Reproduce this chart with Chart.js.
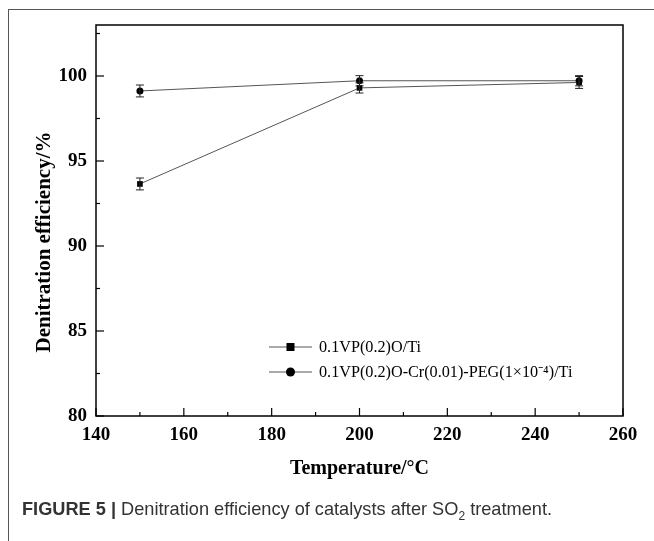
<!DOCTYPE html>
<html>
<head>
<meta charset="utf-8">
<script src="https://cdn.jsdelivr.net/npm/chart.js@4.4.1/dist/chart.umd.min.js"></script>
<style>
    html, body { margin: 0; padding: 0; background: #fff; }
    #wrap { position: relative; width: 654px; height: 541px; overflow: hidden; }
    #frame { position: absolute; left: 8px; top: 9px; width: 700px; height: 600px; border-left: 1px solid #555; border-top: 1px solid #555; }
    #chart { position: absolute; left: 0; top: 0; }
    #caption { position: absolute; left: 22px; top: 499px; font-family: "Liberation Sans", Arial, sans-serif; font-size: 18.2px; color: #333; white-space: nowrap; }
    #caption sub { font-size: 12px; }
</style>
</head>
<body>
<div id="wrap">
    <div id="frame"></div>
    <canvas id="chart" width="654" height="541"></canvas>
    <div id="caption"><b>FIGURE 5 |</b> Denitration efficiency of catalysts after SO<sub>2</sub> treatment.</div>
</div>
<script>
// jshint esversion:6

var temperatures = [150, 200, 250];
var seriesNames = ["0.1VP(0.2)O/Ti", "0.1VP(0.2)O-Cr(0.01)-PEG(1\u00d710\u207b\u2074)/Ti"];
var vpoValues = [93.65, 99.3, 99.62];
var vpoErrors = [0.35, 0.3, 0.35];
var crValues = [99.12, 99.72, 99.72];
var crErrors = [0.35, 0.3, 0.3];
var xTicks = [140, 160, 180, 200, 220, 240, 260];
var yTicks = [80, 85, 90, 95, 100];

var serif = "'Liberation Serif', 'Times New Roman', serif";

function toPoints(values) {
    return temperatures.map((t, i) => ({ x: t, y: values[i] }));
}

// ticks inside the axes, error bars, frame, legend and y title
var extras = {
    id: "extras",
    afterDatasetsDraw(chart) {
        var ctx = chart.ctx;
        var area = chart.chartArea;
        var xs = chart.scales.x;
        var ys = chart.scales.y;
        ctx.save();

        ctx.strokeStyle = "#000";
        ctx.lineWidth = 1.5;
        ctx.strokeRect(area.left, area.top, area.right - area.left, area.bottom - area.top);

        ctx.lineWidth = 1.2;
        yTicks.forEach((v) => {
            var y = ys.getPixelForValue(v);
            ctx.beginPath(); ctx.moveTo(area.left, y); ctx.lineTo(area.left + 8, y); ctx.stroke();
            var m = ys.getPixelForValue(v + 2.5);
            ctx.beginPath(); ctx.moveTo(area.left, m); ctx.lineTo(area.left + 4, m); ctx.stroke();
        });
        xTicks.forEach((v, i) => {
            var x = xs.getPixelForValue(v);
            ctx.beginPath(); ctx.moveTo(x, area.bottom); ctx.lineTo(x, area.bottom - 8); ctx.stroke();
            if (i < xTicks.length - 1) {
                var m = xs.getPixelForValue(v + 10);
                ctx.beginPath(); ctx.moveTo(m, area.bottom); ctx.lineTo(m, area.bottom - 4); ctx.stroke();
            }
        });

        // error bars
        ctx.lineWidth = 1;
        ctx.strokeStyle = "#222";
        [[vpoValues, vpoErrors], [crValues, crErrors]].forEach((s) => {
            temperatures.forEach((t, i) => {
                var x = xs.getPixelForValue(t);
                var hi = ys.getPixelForValue(s[0][i] + s[1][i]);
                var lo = ys.getPixelForValue(s[0][i] - s[1][i]);
                ctx.beginPath();
                ctx.moveTo(x, hi); ctx.lineTo(x, lo);
                ctx.moveTo(x - 4, hi); ctx.lineTo(x + 4, hi);
                ctx.moveTo(x - 4, lo); ctx.lineTo(x + 4, lo);
                ctx.stroke();
            });
        });

        // legend
        var lx = 269, ly = [347, 372];
        ctx.font = "16.2px " + serif;
        ctx.textBaseline = "middle";
        ctx.fillStyle = "#000";
        seriesNames.forEach((name, i) => {
            ctx.strokeStyle = "#555";
            ctx.lineWidth = 1;
            ctx.beginPath(); ctx.moveTo(lx, ly[i]); ctx.lineTo(lx + 43, ly[i]); ctx.stroke();
            ctx.fillStyle = "#000";
            if (i === 0) {
                ctx.fillRect(lx + 17.5, ly[i] - 4, 8, 8);
            } else {
                ctx.beginPath(); ctx.arc(lx + 21.5, ly[i], 4.5, 0, Math.PI * 2); ctx.fill();
            }
            ctx.fillText(name, lx + 50, ly[i] + 1);
        });

        // y title
        ctx.font = "bold 21px " + serif;
        ctx.textAlign = "center";
        ctx.textBaseline = "middle";
        ctx.translate(45, (ys.getPixelForValue(80) + ys.getPixelForValue(100)) / 2 - 4);
        ctx.rotate(-Math.PI / 2);
        ctx.fillText("Denitration efficiency/%", 0, 0);
        ctx.restore();
    }
};

var chart = new Chart(document.getElementById("chart"), {
    type: "scatter",
    data: {
        datasets: [{
            label: seriesNames[0],
            data: toPoints(vpoValues),
            showLine: true,
            borderColor: "#555",
            borderWidth: 1,
            pointStyle: "rect",
            pointRadius: 4,
            pointBackgroundColor: "#000",
            pointBorderColor: "#000",
            pointBorderWidth: 0
        }, {
            label: seriesNames[1],
            data: toPoints(crValues),
            showLine: true,
            borderColor: "#555",
            borderWidth: 1,
            pointStyle: "circle",
            pointRadius: 3.5,
            pointBackgroundColor: "#000",
            pointBorderColor: "#000",
            pointBorderWidth: 0
        }]
    },
    options: {
        responsive: false,
        animation: false,
        layout: { padding: { left: 0, top: 25, right: 31, bottom: 56 } },
        plugins: {
            legend: { display: false },
            tooltip: { enabled: false }
        },
        scales: {
            x: {
                type: "linear",
                min: 140,
                max: 260,
                afterBuildTicks: (s) => { s.ticks = xTicks.map((v) => ({ value: v })); },
                afterFit: (s) => { s.height = 69; },
                grid: { display: false, drawTicks: false },
                border: { display: false },
                ticks: { color: "#000", padding: 8, font: { family: serif, size: 19, weight: "bold" } },
                title: {
                    display: true,
                    text: "Temperature/\u00b0C",
                    color: "#000",
                    padding: { top: 0, bottom: 4 },
                    font: { family: serif, size: 20, weight: "bold" }
                }
            },
            y: {
                min: 80,
                max: 103,
                afterBuildTicks: (s) => { s.ticks = yTicks.map((v) => ({ value: v })); },
                afterFit: (s) => { s.width = 96; },
                grid: { display: false, drawTicks: false },
                border: { display: false },
                ticks: { color: "#000", padding: 9, font: { family: serif, size: 19, weight: "bold" } }
            }
        }
    },
    plugins: [extras]
});
</script>
</body>
</html>
